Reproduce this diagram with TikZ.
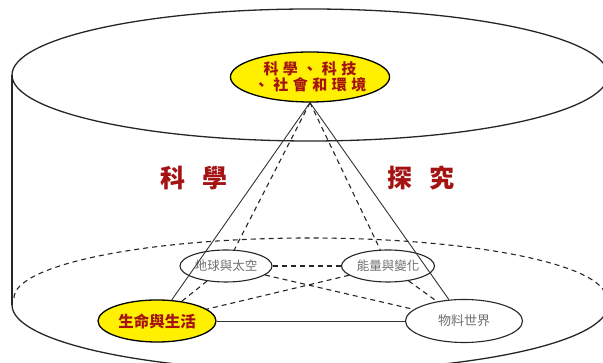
\documentclass[tikz,border=0pt]{standalone}
\usepackage{fontspec}
\newfontfamily\cjk{Noto Sans CJK TC}
\newfontfamily\cjkls{Noto Sans CJK TC}[LetterSpace=30]
\usetikzlibrary{shapes.geometric}
\definecolor{dred}{RGB}{165,18,18}
\definecolor{yfill}{RGB}{255,240,0}
\definecolor{gtext}{RGB}{110,110,110}
\tikzset{
  cyl/.style={line width=1.3pt, black!85},
  tri/.style={line width=0.9pt, black!80},
  dsh/.style={line width=1.1pt, black!85, dash pattern=on 5pt off 4pt},
  topic/.style={ellipse, draw=black!85, line width=1.1pt, inner sep=0pt, text=gtext, font=\cjk\fontsize{12.5pt}{14pt}\selectfont},
  keynode/.style={ellipse, draw=black, line width=1.3pt, fill=yfill, inner sep=0pt, text=dred},
  bigword/.style={text=dred, font=\cjk\bfseries\fontsize{25pt}{28pt}\selectfont, inner sep=0pt}
}
\begin{document}
\begin{tikzpicture}[x=1pt,y=1pt]
\useasboundingbox (0,0) rectangle (603,363);
\clip (0,0) rectangle (603,363);
% cylinder
\draw[cyl] (310,288) ellipse [x radius=298, y radius=66];
\draw[cyl] (12,288) -- (12,58);
\draw[cyl] (608,288) -- (608,58);
\draw[cyl] (12,58) arc[start angle=180, end angle=360, x radius=298, y radius=66];
% inner dashed plane
\draw[dsh] (14,65) arc[start angle=180, end angle=0, x radius=296, y radius=60];
% nodes
\node[keynode, minimum width=134pt, minimum height=50pt, align=center,
      font=\cjkls\bfseries\fontsize{15pt}{14pt}\selectfont] (top) at (310,286)
      {科學、科技\\、社會和環境};
\node[keynode, minimum width=118pt, minimum height=42pt,
      font=\cjk\bfseries\fontsize{15.5pt}{18pt}\selectfont] (life) at (157,42) {生命與生活};
\node[topic, minimum width=92pt, minimum height=32pt] (earth) at (226,97) {地球與太空};
\node[topic, minimum width=93pt, minimum height=32pt] (energy) at (388,97) {能量與變化};
\node[topic, minimum width=117pt, minimum height=43pt, font=\cjk\fontsize{13pt}{15pt}\selectfont] (matter) at (464,42) {物料世界};
\node[bigword] (sci) at (194,185) {科\hspace{17pt}學};
\node[bigword] (inq) at (421,185) {探\hspace{17pt}究};
% connectors
\draw[tri] (top.south) -- (life);
\draw[tri] (top.south) -- (matter);
\draw[tri] (life) -- (matter);
\draw[dsh] (top.south) -- (earth);
\draw[dsh] (top.south) -- (energy);
\draw[dsh] (earth) -- (energy);
\draw[dsh] (earth) -- (matter);
\draw[dsh] (energy) -- (life);
\draw[dsh] (earth) -- (life);
\draw[dsh] (energy) -- (matter);
\end{tikzpicture}
\end{document}
